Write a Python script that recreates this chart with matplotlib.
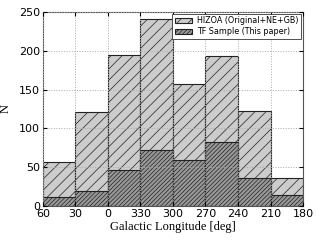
import matplotlib
matplotlib.use('Agg')
import matplotlib.pyplot as plt
import numpy as np

# galactic longitude bin edges, running 60 -> 0 -> 180 (negative = 360-x)
lon_edges = [60, 30, 0, -30, -60, -90, -120, -150, -180]
hizoa_counts = [56, 121, 194, 241, 157, 193, 123, 36]
tf_counts = [11, 19, 46, 72, 59, 82, 36, 14]
tick_labels = [str(e % 360) for e in lon_edges]

plt.rcParams['hatch.linewidth'] = 0.5
plt.rcParams['hatch.color'] = '#333333'

fig = plt.figure(figsize=(3.2, 2.4), dpi=100)
ax = fig.add_axes([0.134, 0.142, 0.813, 0.808])

lefts = np.array(lon_edges[:-1])
widths = np.diff(lon_edges)

ax.bar(lefts, hizoa_counts, width=widths, align='edge', color='#cccccc',
       edgecolor='#222222', linewidth=0.8, hatch='///', label='HIZOA (Original+NE+GB)')
ax.bar(lefts, tf_counts, width=widths, align='edge', color='#999999',
       edgecolor='#222222', linewidth=0.8, hatch='////////', label='TF Sample (This paper)')

ax.set_xlim(60, -180)
ax.set_ylim(0, 250)
ax.set_xticks(lon_edges)
ax.set_xticklabels(tick_labels)
ax.set_yticks(range(0, 251, 50))
ax.tick_params(direction='in', labelsize=8, top=True, right=True, length=3, pad=2)
# grid sits on top of the bars like the old classic style
ax.grid(True, linestyle=':', color='#aaaaaa', linewidth=0.7)
ax.set_axisbelow(False)
for s in ax.spines.values():
    s.set_color('#555555')

ax.set_xlabel('Galactic Longitude [deg]', family='Liberation Serif', fontsize=9, labelpad=2)
ax.set_ylabel('N', family='Liberation Serif', fontsize=9)
ax.yaxis.set_label_coords(-0.12, 0.5)

leg = ax.legend(loc='upper right', prop={'size': 5.8}, fancybox=False, framealpha=1,
                edgecolor='#333333', borderpad=0.3, handlelength=2.2, handleheight=0.6,
                handletextpad=0.6, labelspacing=0.25, borderaxespad=0.25)
leg.get_frame().set_linewidth(0.6)

fig.savefig('out.png', dpi=100)
